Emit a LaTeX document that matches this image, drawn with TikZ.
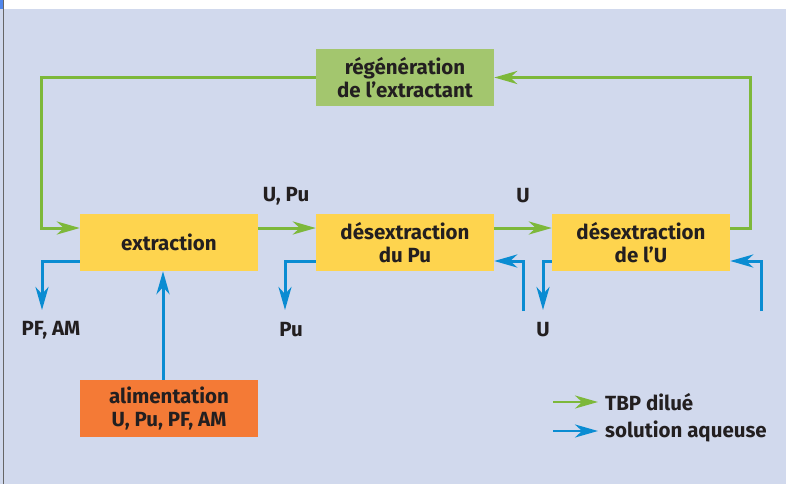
\documentclass[tikz,border=0pt]{standalone}
\usepackage{fontspec}
\setmainfont{Fira Sans}
\usetikzlibrary{arrows.meta}
\usetikzlibrary{calc}
\usetikzlibrary{positioning}
\definecolor{fond}{HTML}{D1D9ED}
\definecolor{vert}{HTML}{7DB83A}
\definecolor{bleu}{HTML}{0A8CD2}
\definecolor{jaune}{HTML}{FED44E}
\definecolor{vertclair}{HTML}{A3C66E}
\definecolor{orange}{HTML}{F47A36}
\definecolor{texte}{HTML}{231F20}
\tikzset{
  etage/.style={fill=jaune, minimum width=178pt, minimum height=57pt, inner sep=0pt,
    align=center, font=\fontsize{20.5}{23}\selectfont\bfseries, text=texte},
  etiq/.style={font=\fontsize{20.5}{23}\selectfont\bfseries, text=texte, inner sep=0pt},
  tbp/.style={draw=vert, line width=3pt, -{Stealth[length=23pt,width=13pt,inset=7pt]}},
  aq/.style={draw=bleu, line width=3pt, -{Stealth[length=23pt,width=13pt,inset=7pt]}}
}
\begin{document}
\begin{tikzpicture}[x=1pt,y=-1pt]
    % fond et cadre
    \useasboundingbox (0,0) rectangle (786,484);
    \fill[white] (0,0) rectangle (786,484);
    \fill[fond] (0,9) rectangle (786,484);
    \fill[bleu!60!blue!70!white] (0,0) rectangle (3,9);
    \draw[gray!80!black, line width=1.2pt] (3.5,0) -- (3.5,484);

    % les blocs
    \node[etage] (ext) at (169,242.5) {extraction};
    \node[etage] (desPu) at (405,242.5) {désextraction\\du Pu};
    \node[etage] (desU) at (641,242.5) {désextraction\\de l’U};
    \node[etage, fill=vertclair] (regen) at (405,77.5) {régénération\\de l’extractant};
    \node[etage, fill=orange] (alim) at (169,408.5) {alimentation\\U, Pu, PF, AM};

    % etiquettes
    \node[etiq] (lUPu) at (286,196) {U, Pu};
    \node[etiq] (lU) at (523,196) {U};
    \node[etiq] (lPFAM) at (51,330) {PF, AM};
    \node[etiq] (lPu) at (291,330) {Pu};
    \node[etiq] (lUsortie) at (543,330) {U};

    % solvant (TBP)
    \draw[tbp] (regen.west) -| ([xshift=-38pt,yshift=14.5pt]ext.west) -- ([yshift=14.5pt]ext.west);
    \draw[tbp] ([yshift=14.5pt]ext.east) -- ([yshift=14.5pt]desPu.west);
    \draw[tbp] ([yshift=14.5pt]desPu.east) -- ([yshift=14.5pt]desU.west);
    \draw[tbp] ([yshift=14.5pt]desU.east) -- ++(20,0) |- (regen.east);

    % phase aqueuse
    \coordinate (sPFAM) at (42,310);
    \coordinate (sPu) at (285,310);
    \coordinate (sU) at (543,310);
    \coordinate (ePu) at (523,311);
    \coordinate (eU) at (761,311);
    \draw[aq] ([yshift=-18.5pt]ext.west) -| (sPFAM);
    \draw[aq] ([yshift=-18.5pt]desPu.west) -| (sPu);
    \draw[aq] ([yshift=-18.5pt]desU.west) -| (sU);
    \draw[aq] (ePu) |- ([yshift=-18.5pt]desPu.east);
    \draw[aq] (eU) |- ([yshift=-18.5pt]desU.east);
    \draw[aq] ([xshift=-6pt]alim.north) -- ([xshift=-6pt]ext.south);

    % legende
    \coordinate (legA) at (553,402);
    \coordinate (legB) at (598,402);
    \coordinate (legC) at (553,431);
    \coordinate (legD) at (598,431);
    \draw[tbp, line width=2.5pt] (legA) -- (legB);
    \draw[aq, line width=2.5pt] (legC) -- (legD);
    \node[etiq, anchor=west] (legTBP) at (605,402) {TBP dilué};
    \node[etiq, anchor=west] (legAq) at (605,431) {solution aqueuse};
\end{tikzpicture}
\end{document}
